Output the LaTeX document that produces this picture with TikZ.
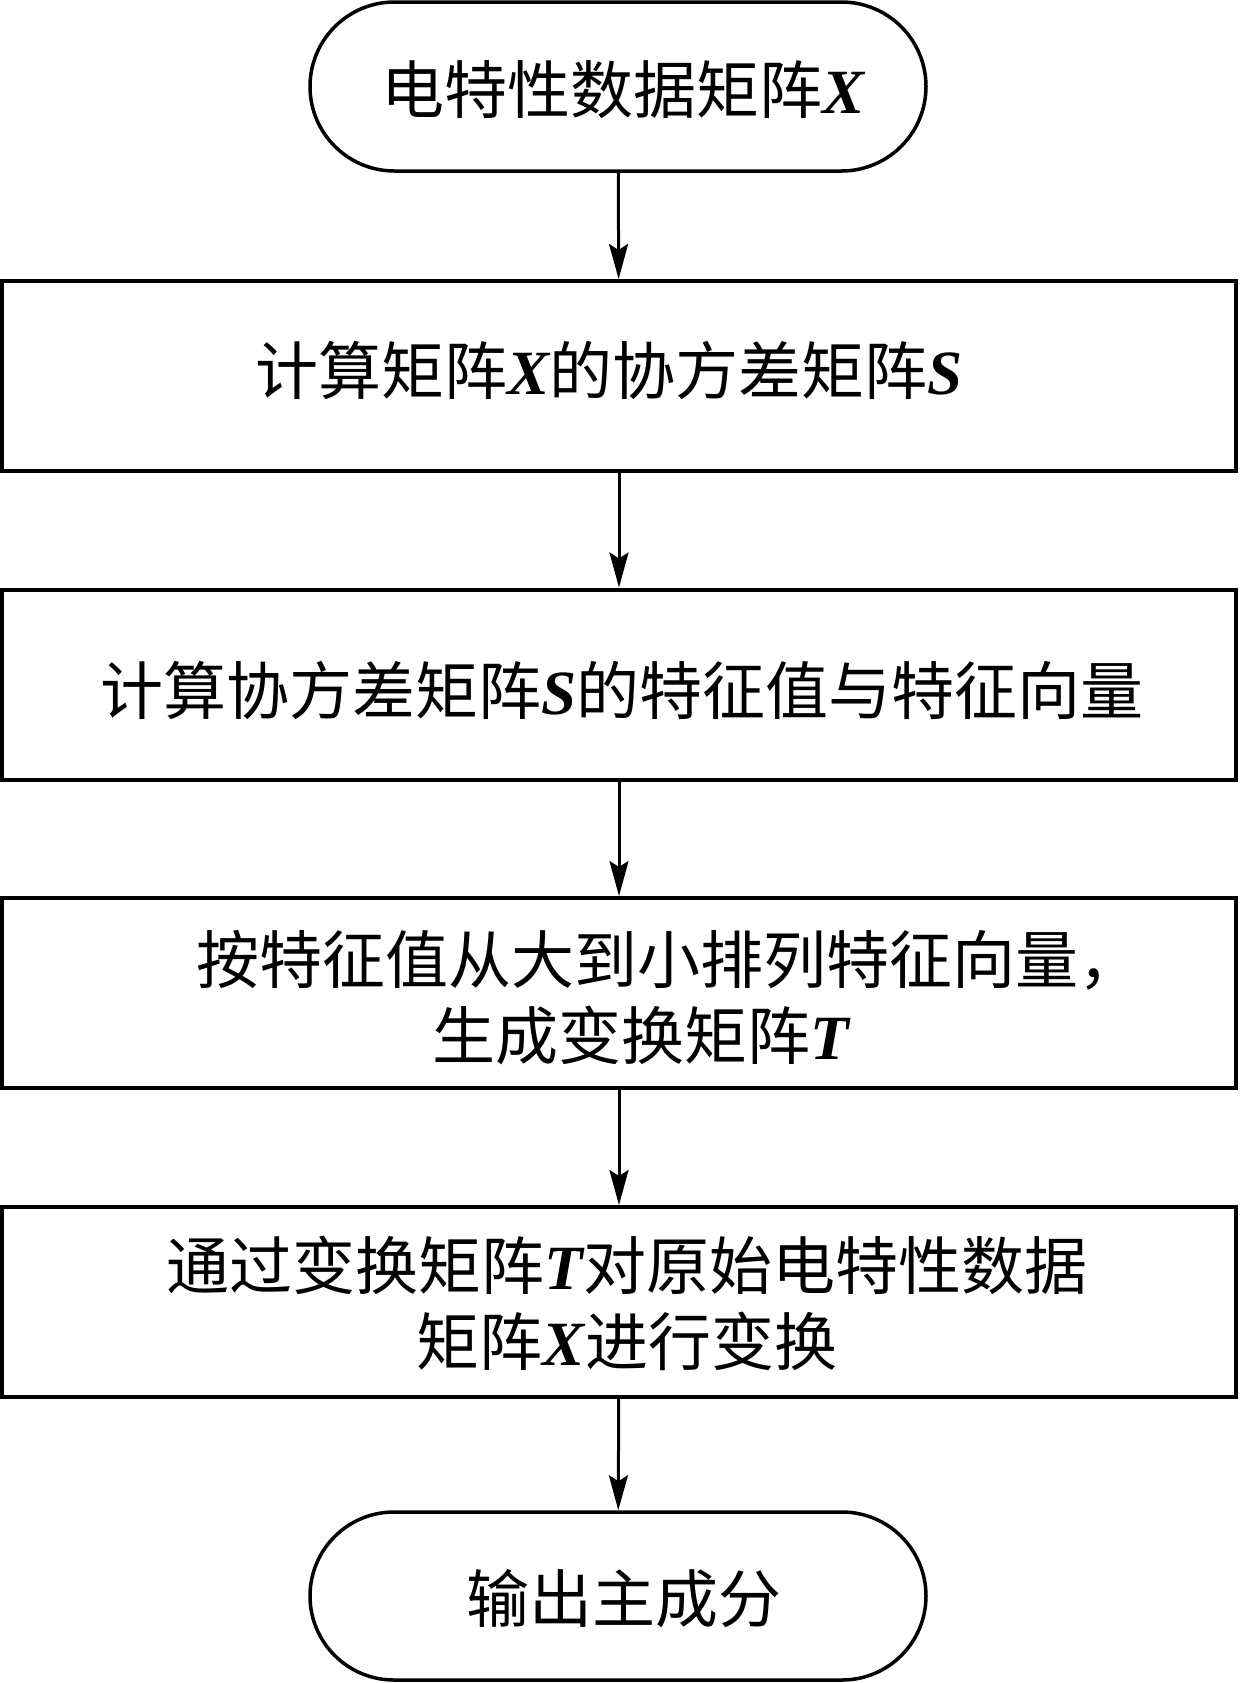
\documentclass[tikz,border=0pt]{standalone}
\usepackage{fontspec}
\setmainfont{Liberation Serif}
\newfontfamily\cjk{Noto Sans CJK SC}
\usetikzlibrary{shapes.misc,arrows.meta}
\newcommand{\lv}[1]{{\rmfamily\bfseries\itshape #1}}
\begin{document}
\begin{tikzpicture}[x=0.5pt,y=-0.5pt,
  term/.style={rounded rectangle, draw, line width=1.75pt, minimum width=308pt, minimum height=84.5pt, inner sep=0pt},
  box/.style={rectangle, draw, line width=2pt, minimum width=617pt, minimum height=95pt, inner sep=0pt},
  txt/.style={font=\cjk\fontsize{31.5}{38}\selectfont, align=center, inner sep=0pt},
  flow/.style={line width=1.5pt, -{Stealth[length=17.5pt,width=9.5pt,inset=3pt]}}]
\useasboundingbox (0,0) rectangle (1239,1683);
% shapes
\node[term] (n1) at (618,86.5) {};
\node[box]  (n2) at (619,376) {};
\node[box]  (n3) at (619,684.5) {};
\node[box]  (n4) at (619,993) {};
\node[box]  (n5) at (619,1302) {};
\node[term, minimum height=84pt] (n6) at (618,1596) {};
% texts
\node[txt] (l1) at (623,90) {电特性数据矩阵\lv{X}};
\node[txt] (l2) at (609,370) {计算矩阵\lv{X}的协方差矩阵\lv{S}};
\node[txt] (l3) at (622,690) {计算协方差矩阵\lv{S}的特征值与特征向量};
\node[txt] (l4) at (641,998) {\hspace*{28pt}按特征值从大到小排列特征向量，\\生成变换矩阵\lv{T}};
\node[txt] (l5) at (627,1303) {通过变换矩阵\lv{T}对原始电特性数据\\矩阵\lv{X}进行变换};
\node[txt] (l6) at (624,1599) {输出主成分};
% connectors
\draw[flow] (n1) -- (n2);
\draw[flow] (n2) -- (n3);
\draw[flow] (n3) -- (n4);
\draw[flow] (n4) -- (n5);
\draw[flow] (n5) -- (n6);
\end{tikzpicture}
\end{document}
